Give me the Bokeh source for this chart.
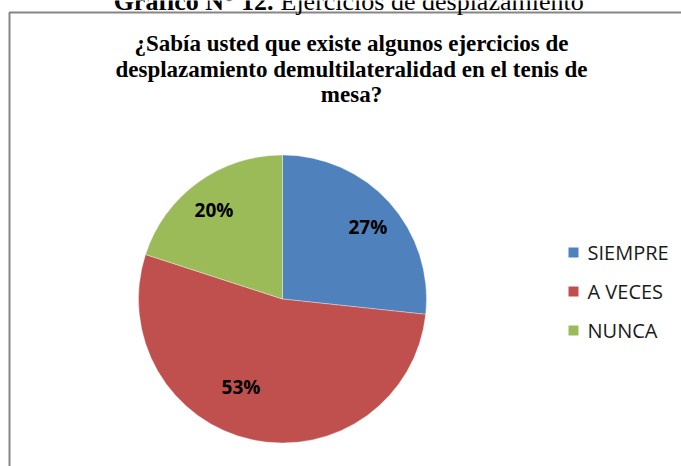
import numpy as np
from bokeh.plotting import figure
from bokeh.models import Range1d, ColumnDataSource
from bokeh.core.properties import value
from bokeh.embed import file_html
from bokeh.resources import INLINE

# ---- data ----
categories = ["SIEMPRE", "A VECES", "NUNCA"]
percentages = [26.7, 53.3, 20.0]
colors = ["#4F81BD", "#C0504D", "#9BBB59"]
title_lines = [
    "¿Sabía usted que existe algunos ejercicios de",
    "desplazamiento demultilateralidad en el tenis de",
    "mesa?",
]
caption_bold = "Gráfico N° 12."
caption_regular = "Ejercicios de desplazamiento"

W, H = 681, 466
p = figure(width=W, height=H, output_backend="svg", toolbar_location=None,
           x_range=Range1d(0, W), y_range=Range1d(0, H),
           min_border=0, x_axis_location=None, y_axis_location=None)
p.grid.visible = False
p.outline_line_color = None
p.background_fill_color = "white"
p.border_fill_color = "white"

def Y(py):
    return H - py

SERIF = value("Liberation Serif")

# frame of the chart area (only its left and top edges are on the page)
p.line(x=[9, 9, W], y=[0, Y(12), Y(12)], line_color="#868686", line_width=2)

# caption (partly cut off at the top, as in the original page)
p.text(x=[273], y=[Y(0.5)], text=[caption_bold], text_align="right",
       text_baseline="middle", text_font=SERIF,
       text_font_style="bold", text_font_size="26px", text_color="black")
p.text(x=[280], y=[Y(0.5)], text=[caption_regular], text_align="left",
       text_baseline="middle", text_font=SERIF,
       text_font_style="normal", text_font_size="26px", text_color="black")

# chart title
p.text(x=[351] * 3, y=[Y(42.5), Y(68.5), Y(93.5)], text=title_lines,
       text_align="center", text_baseline="middle",
       text_font=SERIF, text_font_style="bold",
       text_font_size="23px", text_color="black")

# pie
cx, cy, r = 282, Y(298.5), 144
vals = np.array(percentages, dtype=float)
frac = vals / vals.sum()
cum = np.concatenate([[0], np.cumsum(frac)])
start = np.pi / 2 - 2 * np.pi * cum[:-1]
end = np.pi / 2 - 2 * np.pi * cum[1:]
mid = (start + end) / 2
src = ColumnDataSource(dict(start=start, end=end, color=colors,
                            cat=categories))
p.wedge(x=cx, y=cy, radius=r, start_angle="start", end_angle="end",
        direction="clock", fill_color="color", line_color="white",
        line_alpha=0.35, line_width=1, source=src)

# data labels ("best fit" placement nudges, in pixels: right, down)
lab_r = 0.75 * r
label_nudge_x = np.array([5, -19, -5])
label_nudge_y = np.array([0, 18, 2])
labels = [f"{round(v):.0f}%" for v in percentages]
p.text(x=cx + lab_r * np.cos(mid) + label_nudge_x,
       y=cy + lab_r * np.sin(mid) + label_nudge_y, text=labels,
       text_align="center", text_baseline="middle",
       text_font=value("Open Sans"), text_font_style="bold",
       text_font_size="19px", text_color="black")

# legend
ly = [Y(252 + 39 * i) for i in range(len(categories))]
p.scatter(x=[573] * len(categories), y=ly, marker="square", size=10,
          fill_color=colors, line_color=None)
p.text(x=[587] * len(categories), y=ly, text=categories, text_align="left",
       text_baseline="middle", text_font=value("Open Sans"),
       text_font_size="20px", text_color="#1a1a1a")

open("out.html", "w").write(file_html(p, INLINE))
